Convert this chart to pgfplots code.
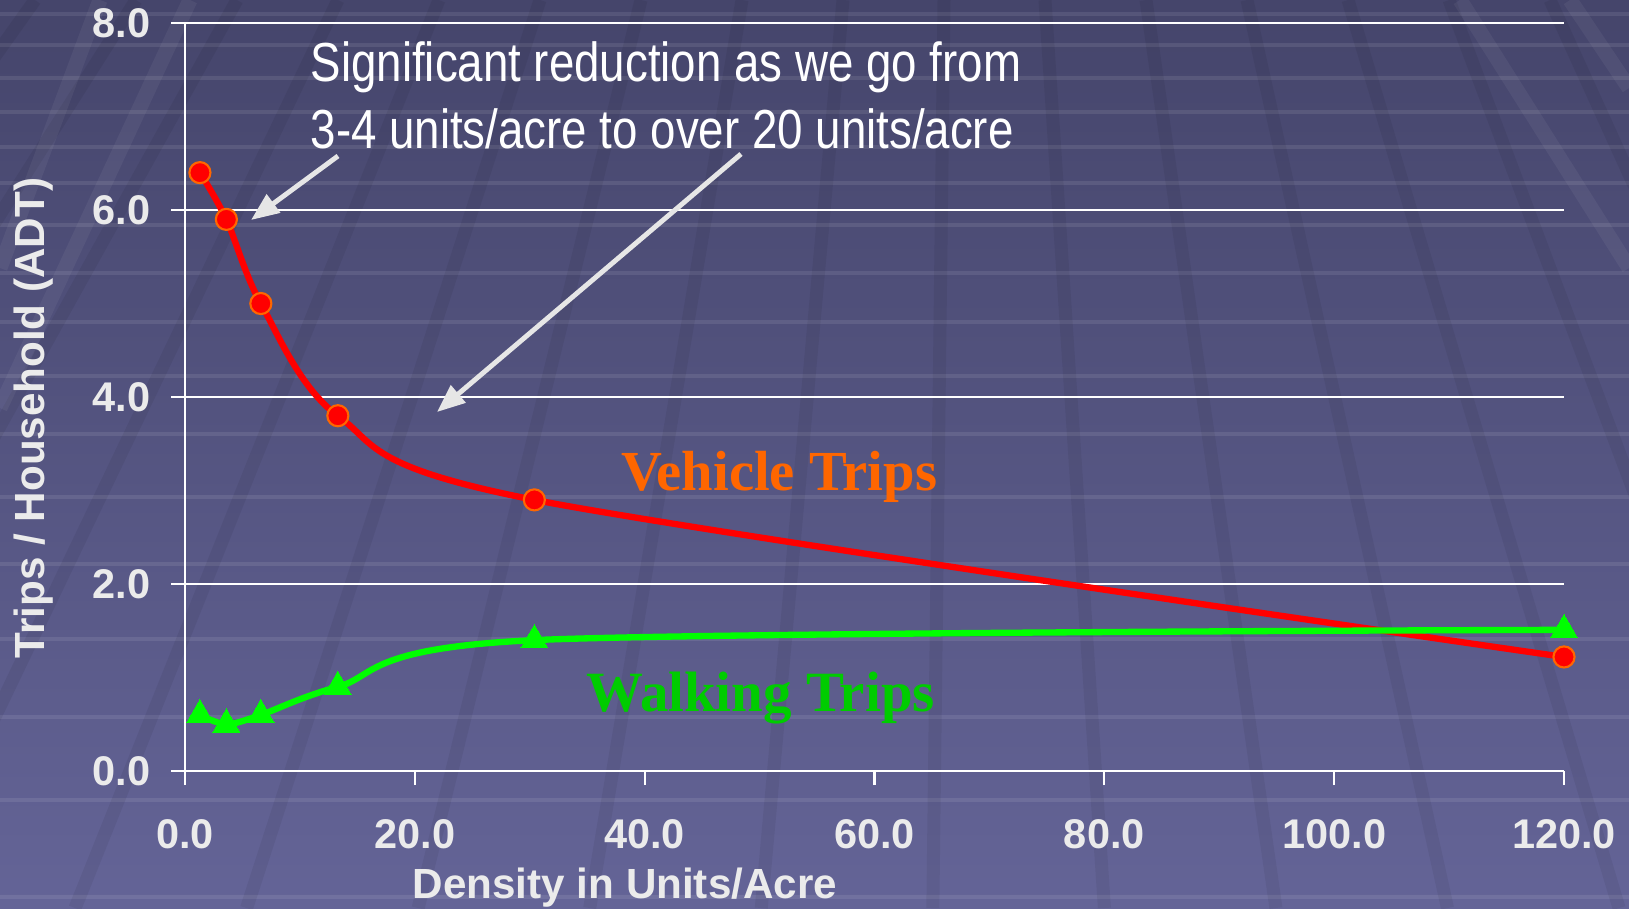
\documentclass[border=0pt]{standalone}
\usepackage{fontspec}
\setmainfont{Liberation Sans}
\newfontfamily\narrowfont[FakeStretch=0.83]{Liberation Sans}
\newfontfamily\timesfont{Liberation Serif}
\usepackage{pgfplots}
\pgfplotsset{compat=1.18}
\usetikzlibrary{arrows.meta}
\definecolor{BgTop}{HTML}{45456B}
\definecolor{BgBot}{HTML}{646497}
\definecolor{LabelGray}{HTML}{EBEBEB}
\definecolor{VehRed}{HTML}{FF0000}
\definecolor{VehEdge}{HTML}{FF6600}
\definecolor{WalkGreen}{HTML}{00FF00}
\definecolor{WalkText}{HTML}{00CC00}
\definecolor{ArrowGray}{HTML}{E6E6E6}

\begin{document}
\begin{tikzpicture}
  % background: gradient with perspective grid
  \shade[top color=BgTop, bottom color=BgBot] (0,0) rectangle (16.29,9.08);
  \begin{scope}
    \clip (0,0) rectangle (16.29,9.08);
    \foreach \y in {14,45,78,112,147,183,225,273,322,376,434,497,564,639,717,800,897}
      \draw[white, opacity=0.09, line width=0.04cm] (0,{9.08-\y/100}) -- (16.29,{9.08-\y/100});
    \foreach \k in {-9,...,11}
      \draw[black, opacity=0.06, line width=0.13cm]
        ({5.40+1.01*\k},9.08) -- ({9.60+(5.40+1.01*\k-9.60)*1.6985},0);
    \draw[white, opacity=0.05, line width=0.15cm] (0,6.4) -- (1.0,9.08);
    \draw[white, opacity=0.05, line width=0.15cm] (0,5.0) -- (1.9,9.08);
    \draw[white, opacity=0.05, line width=0.15cm] (14.6,9.08) -- (16.29,6.4);
    \draw[white, opacity=0.05, line width=0.15cm] (15.7,9.08) -- (16.29,8.2);
  \end{scope}
  \useasboundingbox (0,0) rectangle (16.29,9.08);

  \begin{axis}[
    at={(1.85cm,1.37cm)}, anchor=south west,
    scale only axis, width=13.79cm, height=7.48cm,
    xmin=0, xmax=120, ymin=0, ymax=8,
    xtick={0,20,...,120}, ytick={0,2,...,8},
    axis lines=left,
    axis line style={-, white, line width=0.6pt},
    ymajorgrids, grid style={white, line width=0.6pt},
    tick align=outside, major tick length=0.14cm,
    tick style={white, line width=0.6pt},
    tick label style={text=LabelGray, font=\bfseries\fontsize{11.8}{13}\selectfont, inner sep=0pt},
    yticklabel style={anchor=east, xshift=-0.20cm},
    xticklabel style={anchor=north, yshift=-0.34cm},
    xlabel={Density in Units/Acre},
    ylabel={Trips / Household (ADT)},
    label style={text=LabelGray, font=\bfseries\fontsize{12}{14}\selectfont},
    xlabel style={at={(rel axis cs:0.319,-0.1565)}, anchor=center},
    ylabel style={at={(rel axis cs:-0.1095,0.472)}, anchor=center},
    clip=false,
    /pgf/number format/fixed,
    /pgf/number format/fixed zerofill,
    /pgf/number format/precision=1,
    /pgf/number format/assume math mode=true,
  ]
    % Vehicle trips
    \addplot[VehRed, line width=1.8pt, smooth, mark=*, mark size=3.0pt,
      mark options={fill=VehRed, draw=VehEdge, line width=0.6pt}]
      coordinates {(1.3,6.4) (3.6,5.9) (6.6,5.0) (13.3,3.8) (30.4,2.9) (120,1.22)};
    % Walking trips
    \addplot[WalkGreen, line width=1.8pt, smooth, mark=triangle*, mark size=4.4pt,
      mark options={fill=WalkGreen, draw=WalkGreen, line width=0pt}]
      coordinates {(1.3,0.6) (3.6,0.5) (6.6,0.6) (13.3,0.9) (30.4,1.4) (120,1.51)};
  \end{axis}

  % annotations
  \node[anchor=base west, inner sep=0pt, text=white, font=\narrowfont\fontsize{15.65}{18}\selectfont]
    at (3.10,8.27) {Significant reduction as we go from};
  \node[anchor=base west, inner sep=0pt, text=white, font=\narrowfont\fontsize{15.65}{18}\selectfont]
    at (3.10,7.594) {3-4 units/acre to over 20 units/acre};
  \draw[ArrowGray, line width=1.4pt, -{Triangle[length=0.28cm, width=0.22cm]}] (3.38,7.52) -- (2.51,6.88);
  \draw[ArrowGray, line width=1.4pt, -{Triangle[length=0.28cm, width=0.22cm]}] (7.41,7.54) -- (4.37,4.96);
  \node[anchor=base, inner sep=0pt, text=VehEdge, font=\timesfont\bfseries\fontsize{16.1}{18}\selectfont]
    at (7.79,4.18) {Vehicle Trips};
  \node[anchor=base, inner sep=0pt, text=WalkText, font=\timesfont\bfseries\fontsize{16.2}{18}\selectfont]
    at (7.605,1.97) {Walking Trips};
\end{tikzpicture}
\end{document}
